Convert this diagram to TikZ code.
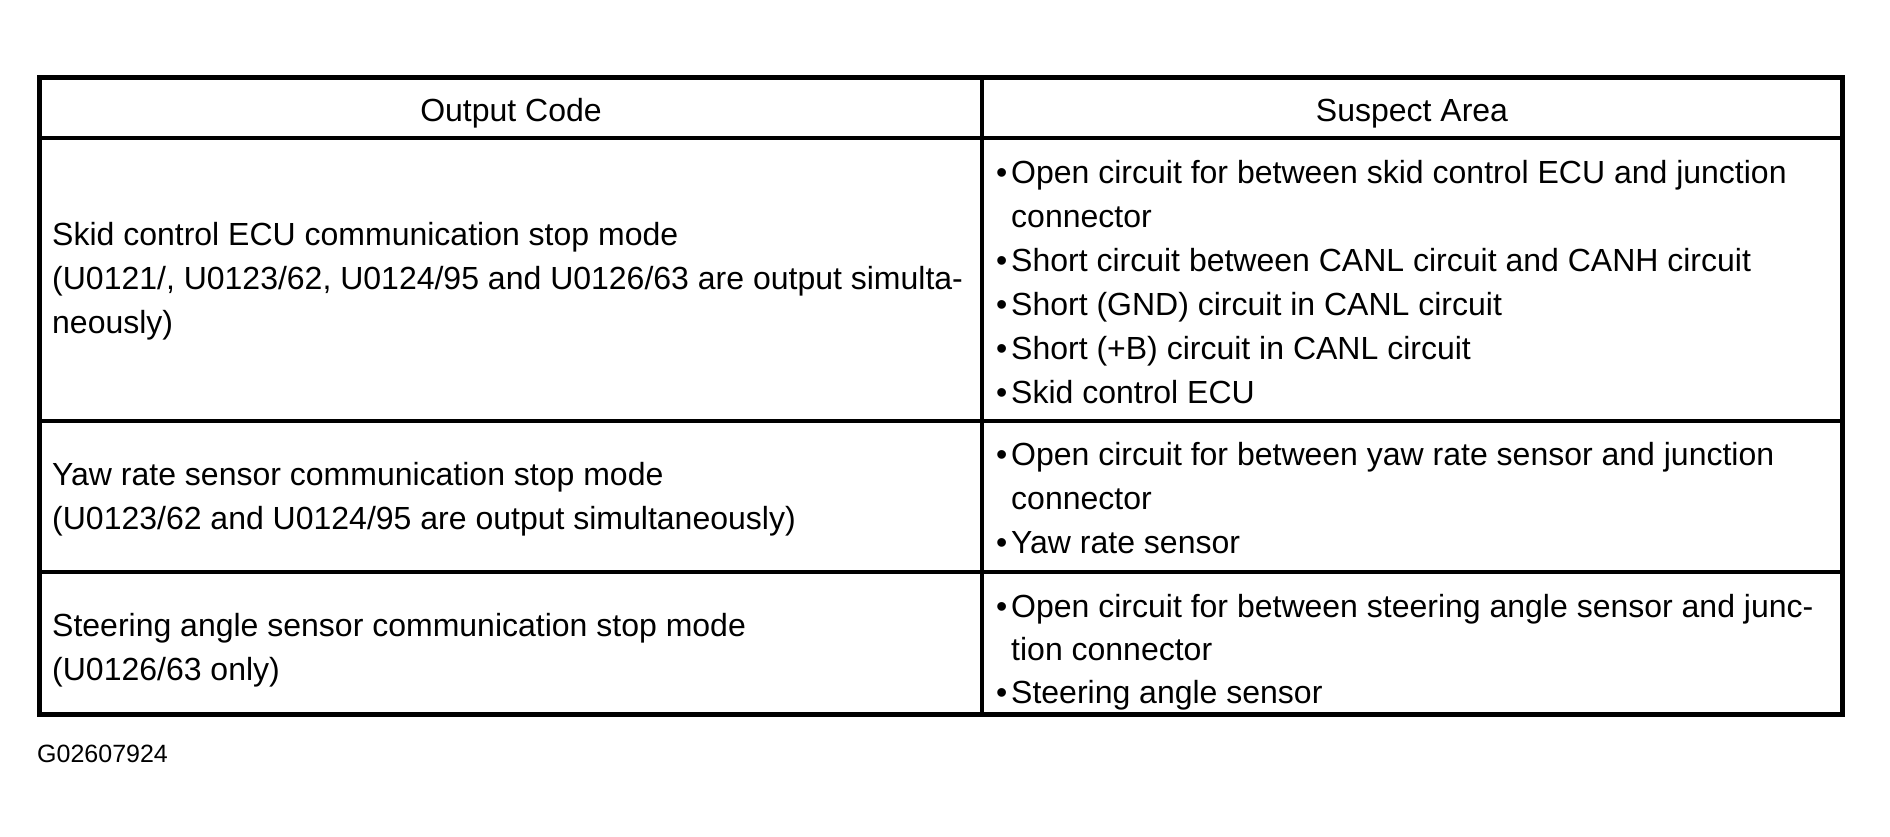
\documentclass[tikz,border=0pt]{standalone}
\usepackage{fontspec}
\setmainfont{Liberation Sans}
\begin{document}
\begin{tikzpicture}[x=1bp,y=-1bp,
  txt/.style={anchor=base west, inner sep=0pt, font=\fontsize{32bp}{44bp}\selectfont},
  hdr/.style={anchor=base, inner sep=0pt, font=\fontsize{32bp}{44bp}\selectfont},
  bul/.style={anchor=base west, inner sep=0pt, font=\fontsize{32bp}{44bp}\selectfont},
  small/.style={anchor=base west, inner sep=0pt, font=\fontsize{25bp}{28bp}\selectfont},
  outer/.style={line width=5bp},
  rule/.style={line width=4.5bp},
  vrule/.style={line width=3.5bp}]
\useasboundingbox (0,0) rectangle (1890,837);
\fill[white] (0,0) rectangle (1890,837);
% table rules
\draw[rule] (39.5,138) -- (1842,138);
\draw[rule] (39.5,421) -- (1842,421);
\draw[rule] (39.5,572) -- (1842,572);
\draw[vrule] (982,77.5) -- (982,714);
\draw[outer] (39.5,77.5) rectangle (1842,714);
% headers
\node[hdr] (h1) at (511,121) {Output Code};
\node[hdr] (h2) at (1412,121) {Suspect Area};
% row 1 left
\node[txt] (a1) at (52,245) {Skid control ECU communication stop mode};
\node[txt] (a2) at (52,289) {(U0121/, U0123/62, U0124/95 and U0126/63 are output simulta-};
\node[txt] (a3) at (52,333) {neously)};
% row 1 right
\node[bul] (b1d) at (996,183) {•};
\node[txt] (b1) at (1011,183) {Open circuit for between skid control ECU and junction};
\node[txt] (b2) at (1011,227) {connector};
\node[bul] (b3d) at (996,271) {•};
\node[txt] (b3) at (1011,271) {Short circuit between CANL circuit and CANH circuit};
\node[bul] (b4d) at (996,315) {•};
\node[txt] (b4) at (1011,315) {Short (GND) circuit in CANL circuit};
\node[bul] (b5d) at (996,359) {•};
\node[txt] (b5) at (1011,359) {Short (+B) circuit in CANL circuit};
\node[bul] (b6d) at (996,403) {•};
\node[txt] (b6) at (1011,403) {Skid control ECU};
% row 2 left
\node[txt] (c1) at (52,485) {Yaw rate sensor communication stop mode};
\node[txt] (c2) at (52,529) {(U0123/62 and U0124/95 are output simultaneously)};
% row 2 right
\node[bul] (d1d) at (996,465) {•};
\node[txt] (d1) at (1011,465) {Open circuit for between yaw rate sensor and junction};
\node[txt] (d2) at (1011,509) {connector};
\node[bul] (d3d) at (996,553) {•};
\node[txt] (d3) at (1011,553) {Yaw rate sensor};
% row 3 left
\node[txt] (e1) at (52,636) {Steering angle sensor communication stop mode};
\node[txt] (e2) at (52,680) {(U0126/63 only)};
% row 3 right
\node[bul] (f1d) at (996,617) {•};
\node[txt] (f1) at (1011,617) {Open circuit for between steering angle sensor and junc-};
\node[txt] (f2) at (1011,660) {tion connector};
\node[bul] (f3d) at (996,703) {•};
\node[txt] (f3) at (1011,703) {Steering angle sensor};
% figure id
\node[small] (g) at (37,762) {G02607924};
\end{tikzpicture}
\end{document}
